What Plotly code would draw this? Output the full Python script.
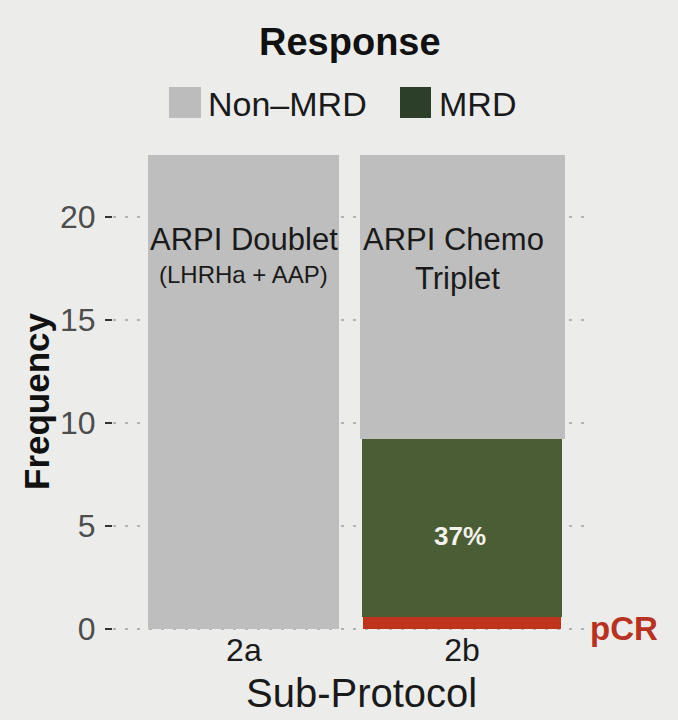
import plotly.graph_objects as go

# ---------------- data ----------------
categories = [1, 2]
category_labels = ["2a", "2b"]
non_mrd = [23.0, 13.8]
mrd = [0.0, 8.6]
pcr = [0.0, 0.6]
y_ticks = [0, 5, 10, 15, 20]

# ---------------- layout geometry ----------------
W, H = 678, 720
L, R, T, B = 113, 85, 131, 85
PW, PH = W - L - R, H - T - B

def px_x(px):
    return (px - L) / PW

def px_y(py):
    return (H - B - py) / PH

BG = "#ecedeb"
GRAY = "#bebebe"
GREEN = "#4a5d35"
GREEN_LEG = "#2c4029"
RED = "#c0341d"
FONT = "Liberation Sans, Arial, Helvetica, sans-serif"

fig = go.Figure()
fig.add_trace(go.Bar(x=categories, y=pcr, width=[0.91, 0.91], marker=dict(color=RED, line=dict(width=0)),
                     name="pCR", showlegend=False, hoverinfo="skip"))
fig.add_trace(go.Bar(x=categories, y=mrd, width=[0.92, 0.92], marker=dict(color=GREEN, line=dict(width=0)),
                     name="MRD", showlegend=False, hoverinfo="skip"))
fig.add_trace(go.Bar(x=categories, y=non_mrd, width=[0.875, 0.94], marker=dict(color=GRAY, line=dict(width=0)),
                     name="Non-MRD", showlegend=False, hoverinfo="skip"))

fig.update_layout(
    width=W, height=H,
    margin=dict(l=L, r=R, t=T, b=B, autoexpand=False),
    paper_bgcolor=BG, plot_bgcolor=BG,
    barmode="stack", bargap=0,
    font=dict(family=FONT, color="#1a1a1a"),
    showlegend=False,
)
fig.update_xaxes(
    range=[0.4, 2.6], tickvals=categories, ticktext=category_labels,
    showgrid=False, zeroline=False, showline=False, ticks="",
    tickfont=dict(size=32, color="#1a1a1a", family=FONT), ticklabelstandoff=-7,
)
fig.update_yaxes(
    range=[-0.29, 24.15], tickvals=y_ticks, ticktext=[str(v) for v in y_ticks],
    showgrid=True, gridcolor="#b3b3b3", gridwidth=2, griddash="3px,9px",
    zeroline=False, showline=False,
    ticks="outside", ticklen=7, tickwidth=2, tickcolor="#333333",
    tickfont=dict(size=32, color="#4d4d4d", family=FONT), ticklabelstandoff=3,
)

ann = []
# axis titles
ann.append(dict(text="Sub-Protocol", x=px_x(361), y=px_y(693), xref="paper", yref="paper",
                showarrow=False, xanchor="center", yanchor="middle",
                font=dict(size=40, color="#1a1a1a", family=FONT)))
ann.append(dict(text="<b>Frequency</b>", x=px_x(36), y=px_y(401), xref="paper", yref="paper",
                showarrow=False, xanchor="center", yanchor="middle", textangle=-90,
                font=dict(size=35, color="#111111", family=FONT)))
# legend
ann.append(dict(text="<b>Response</b>", x=px_x(350), y=px_y(42), xref="paper", yref="paper",
                showarrow=False, xanchor="center", yanchor="middle",
                font=dict(size=38, color="#111111", family=FONT)))
ann.append(dict(text="Non\u2013MRD", x=px_x(206), y=px_y(104), xref="paper", yref="paper",
                showarrow=False, xanchor="left", yanchor="middle",
                font=dict(size=34, color="#1a1a1a", family=FONT)))
ann.append(dict(text="MRD", x=px_x(437), y=px_y(104), xref="paper", yref="paper",
                showarrow=False, xanchor="left", yanchor="middle",
                font=dict(size=34, color="#1a1a1a", family=FONT)))
# in-bar labels
ann.append(dict(text="ARPI Doublet", x=1, y=18.9, xref="x", yref="y", showarrow=False,
                xanchor="center", yanchor="middle", font=dict(size=31, color="#1a1a1a", family=FONT)))
ann.append(dict(text="(LHRHa + AAP)", x=1, y=17.2, xref="x", yref="y", showarrow=False,
                xanchor="center", yanchor="middle", font=dict(size=24, color="#1a1a1a", family=FONT)))
ann.append(dict(text="ARPI Chemo", x=1.96, y=18.9, xref="x", yref="y", showarrow=False,
                xanchor="center", yanchor="middle", font=dict(size=31, color="#1a1a1a", family=FONT)))
ann.append(dict(text="Triplet", x=1.98, y=17.0, xref="x", yref="y", showarrow=False,
                xanchor="center", yanchor="middle", font=dict(size=31, color="#1a1a1a", family=FONT)))
ann.append(dict(text="<b>37%</b>", x=1.99, y=4.5, xref="x", yref="y", showarrow=False,
                xanchor="center", yanchor="middle", font=dict(size=26, color="#f2f2ea", family=FONT)))
ann.append(dict(text="<b>pCR</b>", x=px_x(624), y=px_y(628), xref="paper", yref="paper", showarrow=False,
                xanchor="center", yanchor="middle", font=dict(size=33, color="#b8321f", family=FONT)))
fig.update_layout(annotations=ann)

# legend keys
fig.add_shape(type="rect", xref="paper", yref="paper", x0=px_x(169), x1=px_x(201), y0=px_y(118), y1=px_y(87),
              fillcolor="#bcbcbc", line=dict(width=0))
fig.add_shape(type="rect", xref="paper", yref="paper", x0=px_x(400), x1=px_x(431), y0=px_y(118), y1=px_y(87),
              fillcolor=GREEN_LEG, line=dict(width=0))

fig.write_html("out.html")
